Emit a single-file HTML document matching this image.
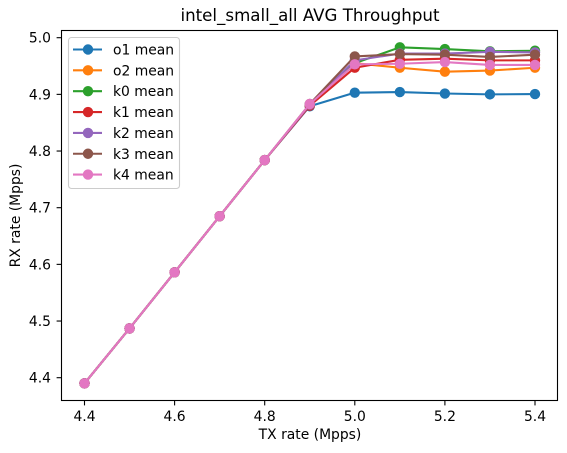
<!DOCTYPE html>
<html>
<head>
<meta charset="utf-8">
<style>
html,body{margin:0;padding:0;background:#fff}
svg{display:block}
text{font-family:"DejaVu Sans",sans-serif;font-size:13.89px;fill:#000}
</style>
</head>
<body>
<svg id="chart" xmlns="http://www.w3.org/2000/svg" width="567" height="453" viewBox="0 0 567 453"></svg>
<script>
const chartTitle = "intel_small_all AVG Throughput";
const xAxisTitle = "TX rate (Mpps)";
const yAxisTitle = "RX rate (Mpps)";
const txRates = [4.4,4.5,4.6,4.7,4.8,4.9,5.0,5.1,5.2,5.3,5.4];
const xTickValues = [4.4,4.6,4.8,5.0,5.2,5.4];
const yTickValues = [4.4,4.5,4.6,4.7,4.8,4.9,5.0];
const seriesNames = ["o1 mean","o2 mean","k0 mean","k1 mean","k2 mean","k3 mean","k4 mean"];
const seriesColors = ["#1f77b4","#ff7f0e","#2ca02c","#d62728","#9467bd","#8c564b","#e377c2"];
const o1Values = [4.390,4.487,4.586,4.685,4.784,4.879,4.903,4.904,4.9015,4.900,4.9005];
const o2Values = [4.390,4.487,4.586,4.685,4.784,4.881,4.955,4.947,4.940,4.942,4.947];
const k0Values = [4.390,4.487,4.586,4.685,4.784,4.882,4.955,4.983,4.980,4.976,4.977];
const k1Values = [4.390,4.487,4.586,4.685,4.784,4.880,4.947,4.961,4.963,4.960,4.960];
const k2Values = [4.390,4.487,4.586,4.685,4.784,4.882,4.960,4.972,4.972,4.975,4.974];
const k3Values = [4.390,4.487,4.586,4.685,4.784,4.883,4.967,4.971,4.970,4.966,4.970];
const k4Values = [4.390,4.487,4.586,4.685,4.784,4.883,4.953,4.954,4.957,4.952,4.952];
const seriesValues = [o1Values,o2Values,k0Values,k1Values,k2Values,k3Values,k4Values];

const NS = "http://www.w3.org/2000/svg";
const svg = document.getElementById("chart");
const plot = {left:61.5, right:557.5, top:30.5, bottom:400.5};
function xScale(v){ return 84.5 + (v - 4.4) * 450.5; }
function yScale(v){ return 377.7 - (v - 4.4) * 566.67; }
function make(tag, attrs, parent){
  const el = document.createElementNS(NS, tag);
  for (const k in attrs) el.setAttribute(k, attrs[k]);
  (parent || svg).appendChild(el);
  return el;
}
const plotBg = make("rect",{x:plot.left,y:plot.top,width:plot.right-plot.left,height:plot.bottom-plot.top,fill:"#fff"});



seriesValues.forEach(function(values, i){
  const g = make("g",{});
  
  
  const line = make("polyline",{
    points: values.map(function(v,j){ return xScale(txRates[j]).toFixed(2)+","+yScale(v).toFixed(2); }).join(" "),
    fill:"none", stroke:seriesColors[i], "stroke-width":2.08, "stroke-linejoin":"round"
  }, g);
  
  
  values.forEach(function(v,j){
    const dot = make("circle",{cx:xScale(txRates[j]),cy:yScale(v),r:4.7,fill:seriesColors[i],stroke:seriesColors[i],"stroke-width":1}, g);
    
    
  });
});

const frame = make("rect",{x:plot.left,y:plot.top,width:plot.right-plot.left,height:plot.bottom-plot.top,fill:"none",stroke:"#000","stroke-width":1.1});



xTickValues.forEach(function(v){
  const x = xScale(v);
  const tick = make("line",{x1:x,x2:x,y1:plot.bottom,y2:plot.bottom+4.9,stroke:"#000","stroke-width":1.1});
  
  
  const label = make("text",{x:x,y:421,"text-anchor":"middle"});
  label.textContent = v.toFixed(1);
  
  
});
yTickValues.forEach(function(v){
  const y = yScale(v);
  const tick = make("line",{x1:plot.left-4.9,x2:plot.left,y1:y,y2:y,stroke:"#000","stroke-width":1.1});
  
  
  const label = make("text",{x:51,y:y+5,"text-anchor":"end"});
  label.textContent = v.toFixed(1);
  
  
});

const titleEl = make("text",{x:310,y:21,"text-anchor":"middle",style:"font-size:16.67px"});
titleEl.textContent = chartTitle;



const xTitleEl = make("text",{x:310,y:439,"text-anchor":"middle"});
xTitleEl.textContent = xAxisTitle;



const yTitleEl = make("text",{x:0,y:0,"text-anchor":"middle",transform:"translate(20,215.5) rotate(-90)"});
yTitleEl.textContent = yAxisTitle;



const legend = make("g",{});


const legendBox = make("rect",{x:68.5,y:37.5,width:111,height:151,rx:3,ry:3,fill:"#fff","fill-opacity":0.8,stroke:"#ccc","stroke-width":1.1}, legend);


seriesNames.forEach(function(name,i){
  const y = 49.5 + i * 20.85;
  const entry = make("g",{}, legend);
  
  
  make("line",{x1:73,x2:102,y1:y,y2:y,stroke:seriesColors[i],"stroke-width":2.08}, entry);
  make("circle",{cx:88,cy:y,r:4.7,fill:seriesColors[i],stroke:seriesColors[i],"stroke-width":1}, entry);
  const t = make("text",{x:113,y:y+5}, entry);
  t.textContent = name;
});
</script>
</body>
</html>
